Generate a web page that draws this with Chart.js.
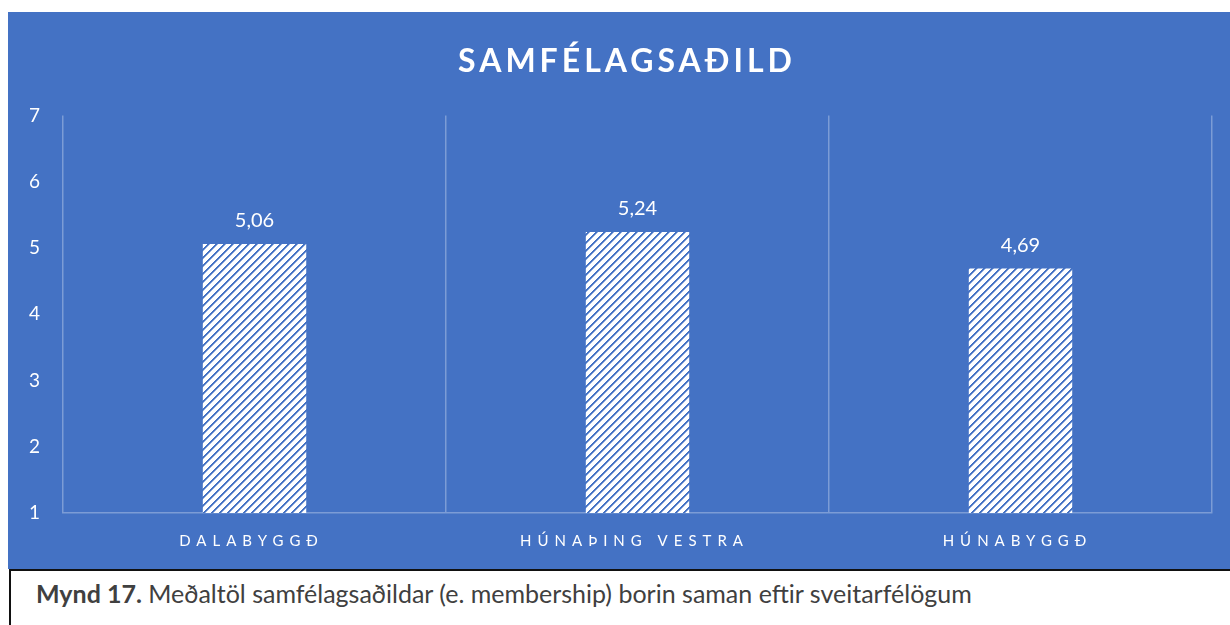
<!DOCTYPE html>
<html>
<head>
<meta charset="utf-8">
<script src="https://cdn.jsdelivr.net/npm/chart.js@4/dist/chart.umd.min.js"></script>
<style>
  html, body { margin: 0; padding: 0; background: #ffffff; width: 1230px; height: 625px; overflow: hidden; }
  #panel { position: absolute; left: 8px; top: 12px; width: 1222px; height: 557px; background: #4472C4; }
  #caption { position: absolute; left: 9px; top: 569px; width: 1221px; height: 56px;
    border-top: 2px solid #111; border-left: 2px solid #111; box-sizing: border-box;
    font-family: Lato, "Open Sans", sans-serif; font-size: 25px; color: #404040;
    padding: 7px 0 0 25px; }
</style>
</head>
<body>
<div id="panel"><canvas id="c" width="1222" height="557"></canvas></div>
<div id="caption"><b>Mynd 17.</b> Meðaltöl samfélagsaðildar (e. membership) borin saman eftir sveitarfélögum</div>
<script>
const chartTitle = "SAMFÉLAGSAÐILD";
const categories = ["DALABYGGÐ", "HÚNAÞING VESTRA", "HÚNABYGGÐ"];
const values = [5.06, 5.24, 4.69];
const yTicks = [1, 2, 3, 4, 5, 6, 7];

function makePattern() {
  const p = document.createElement('canvas');
  p.width = 8; p.height = 8;
  const g = p.getContext('2d');
  g.fillStyle = '#ffffff';
  g.fillRect(0, 0, 8, 8);
  for (let y = 0; y < 8; y++) {
    const x0 = (7 - y) % 8;
    g.fillStyle = '#4472C4';
    g.fillRect(x0, y, 1, 1);
    g.fillRect((x0 + 1) % 8, y, 1, 1);
    g.fillStyle = 'rgba(68,114,196,0.55)';
    g.fillRect((x0 + 2) % 8, y, 1, 1);
  }
  return document.getElementById('c').getContext('2d').createPattern(p, 'repeat');
}

const spacingPlugin = {
  id: 'spacing',
  beforeDraw(chart) {
    const s = chart.scales.x;
    if (s && !s._ls) {
      const orig = s.drawLabels;
      s.drawLabels = function (a) {
        const c = this.ctx; c.save(); c.letterSpacing = '6px';
        c.translate(-3, 0);
        orig.call(this, a); c.restore();
      };
      s._ls = true;
    }
    const t = chart.titleBlock;
    if (t && !t._ls) {
      const o = t.draw;
      t.draw = function () {
        const c = this.ctx; c.save(); c.letterSpacing = '4px';
        c.translate(14, 0);
        o.call(this); c.restore();
      };
      t._ls = true;
    }
  }
};

const valueLabels = {
  id: 'valueLabels',
  afterDatasetsDraw(chart) {
    const ctx = chart.ctx;
    const meta = chart.getDatasetMeta(0);
    ctx.save();
    ctx.fillStyle = '#ffffff';
    ctx.font = '20px Lato, "Open Sans", sans-serif';
    ctx.textAlign = 'center';
    ctx.textBaseline = 'bottom';
    meta.data.forEach((bar, i) => {
      ctx.fillText(values[i].toFixed(2).replace('.', ','), bar.x, bar.y - 13);
    });
    ctx.restore();
  }
};

new Chart(document.getElementById('c'), {
  type: 'bar',
  data: {
    labels: categories,
    datasets: [{
      data: values,
      backgroundColor: makePattern(),
      borderWidth: 0,
      barPercentage: 0.54,
      categoryPercentage: 0.5
    }]
  },
  options: {
    responsive: false,
    animation: false,
    events: [],
    layout: { padding: { left: 6, right: 18, top: 0, bottom: 0 } },
    plugins: {
      legend: { display: false },
      tooltip: { enabled: false },
      title: {
        display: true,
        text: chartTitle,
        color: '#ffffff',
        font: { family: 'Lato, "Open Sans", sans-serif', size: 32, weight: 'bold' },
        padding: { top: 30, bottom: 35 }
      }
    },
    scales: {
      x: {
        grid: { display: true, offset: true, color: 'rgba(255,255,255,0.3)', lineWidth: 1.5, drawTicks: false },
        border: { display: true, color: 'rgba(255,255,255,0.3)', width: 1.5 },
        ticks: { color: '#ffffff', padding: 19, font: { family: 'Lato, "Open Sans", sans-serif', size: 15 } }
      },
      y: {
        min: 1, max: 7,
        afterBuildTicks(scale) { scale.ticks = yTicks.map(v => ({ value: v })); },
        grid: { display: false },
        border: { display: false },
        ticks: { color: '#ffffff', padding: 15, font: { family: 'Lato, "Open Sans", sans-serif', size: 19 } }
      }
    }
  },
  plugins: [spacingPlugin, valueLabels]
});
</script>
</body>
</html>
